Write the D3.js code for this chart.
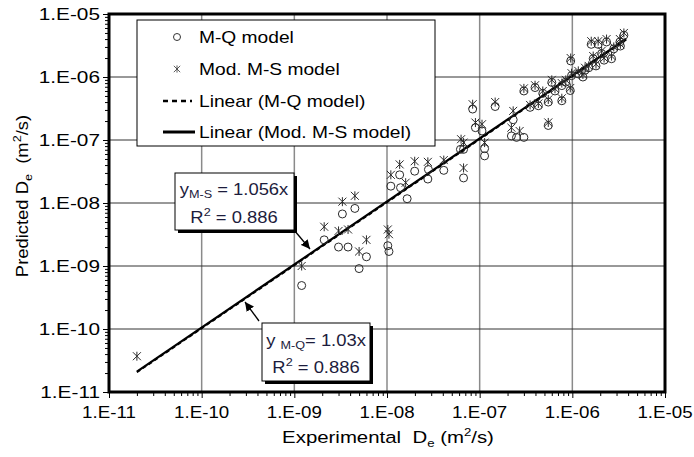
<!DOCTYPE html>
<html><head><meta charset="utf-8">
<script src="https://cdn.jsdelivr.net/npm/d3@7"></script>
<style>body{margin:0;background:#fff}svg{display:block}</style>
</head><body><svg id="c" width="694" height="457"></svg>
<script>
const tickValues = [1e-11,1e-10,1e-9,1e-8,1e-7,1e-6,1e-5];
const tickLabels = ["1.E-11","1.E-10","1.E-09","1.E-08","1.E-07","1.E-06","1.E-05"];
const legendLabels = ["M-Q model","Mod. M-S model","Linear (M-Q model)","Linear (Mod. M-S model)"];
const slopeMQ = 1.03, slopeMS = 1.056;
const fitRange = [2e-11, 3.8e-6];

// M-Q model (circles)
const mqExp = [1.2e-9,2.1e-9,3.3e-9,4.5e-9,3.0e-9,3.8e-9,6.0e-9,5.0e-9,1.02e-8,1.05e-8,
  1.1e-8,1.37e-8,1.4e-8,1.65e-8,1.99e-8,2.76e-8,2.8e-8,4.1e-8,6.7e-8,6.2e-8,6.7e-8,8.4e-8,
  1.47e-7,9.0e-8,1.06e-7,1.13e-7,1.13e-7,2.3e-7,2.2e-7,2.5e-7,3.0e-7,
  3.0e-7,3.5e-7,3.96e-7,4.3e-7,5.5e-7,6.0e-7,7.7e-7,7.7e-7,9.6e-7,9.5e-7,9.8e-7,1.16e-6,
  1.37e-6,1.68e-6,2.07e-6,2.65e-6,1.6e-6,1.9e-6,2.34e-6,3.26e-6,3.6e-6,5.5e-7,
  4.8e-7,6.5e-7,8.5e-7,1.3e-6,1.8e-6,2.2e-6,2.8e-6,3.3e-6,1.5e-6];
const mqPred = [4.9e-10,2.6e-9,6.7e-9,8.2e-9,2.0e-9,2.0e-9,1.4e-9,9.1e-10,2.1e-9,1.7e-9,
  1.85e-8,2.8e-8,1.75e-8,1.17e-8,3.2e-8,2.4e-8,3.4e-8,3.3e-8,2.5e-8,7.1e-8,7.1e-8,3.1e-7,
  3.4e-7,1.57e-7,1.39e-7,7.3e-8,5.6e-8,2.1e-7,1.16e-7,1.1e-7,1.1e-7,
  6.0e-7,3.3e-7,6.8e-7,3.5e-7,4.0e-7,8.2e-7,7.3e-7,4.2e-7,1.8e-6,6.1e-7,1.05e-6,1.12e-6,
  1.28e-6,1.95e-6,2.35e-6,1.95e-6,3.3e-6,3.3e-6,3.6e-6,3.6e-6,4.6e-6,1.7e-7,
  5.5e-7,6.0e-7,8.3e-7,1.0e-6,1.5e-6,1.85e-6,2.8e-6,3.1e-6,1.4e-6];

// Mod. M-S model (stars)
const msExp = [2.0e-11,1.2e-9,2.1e-9,3.3e-9,4.5e-9,3.0e-9,3.8e-9,6.0e-9,5.0e-9,1.02e-8,1.05e-8,
  1.1e-8,1.37e-8,1.59e-8,1.99e-8,2.76e-8,4.1e-8,6.7e-8,6.3e-8,6.7e-8,8.4e-8,1.47e-7,9.0e-8,
  1.06e-7,1.13e-7,2.3e-7,2.2e-7,2.7e-7,
  3.0e-7,3.5e-7,3.96e-7,4.3e-7,5.5e-7,6.0e-7,7.7e-7,7.7e-7,9.6e-7,9.5e-7,9.8e-7,1.16e-6,
  1.37e-6,1.68e-6,2.07e-6,2.65e-6,1.6e-6,1.9e-6,2.34e-6,3.26e-6,3.6e-6,5.5e-7,
  4.8e-7,6.5e-7,8.5e-7,1.3e-6,1.8e-6,2.2e-6,2.8e-6,3.3e-6,1.5e-6];
const msPred = [3.7e-11,1.0e-9,4.2e-9,1.05e-8,1.3e-8,3.6e-9,3.8e-9,2.6e-9,1.7e-9,3.8e-9,3.2e-9,
  2.8e-8,4.1e-8,2.1e-8,4.6e-8,4.5e-8,4.8e-8,3.6e-8,1.03e-7,9.1e-8,3.7e-7,4.0e-7,1.89e-7,
  1.78e-7,9.1e-8,2.9e-7,1.57e-7,1.39e-7,
  6.6e-7,3.6e-7,7.4e-7,3.8e-7,4.4e-7,9.0e-7,8.0e-7,4.6e-7,2.0e-6,6.7e-7,1.15e-6,1.25e-6,
  1.4e-6,2.15e-6,2.6e-6,2.15e-6,3.7e-6,3.7e-6,4.0e-6,4.0e-6,5.0e-6,1.9e-7,
  6.0e-7,6.5e-7,9.0e-7,1.1e-6,1.6e-6,2.0e-6,3.0e-6,3.3e-6,1.5e-6];

const svg = d3.select("#c");
const L = 109, R = 665, T = 14, B = 392;
const x = d3.scaleLog().domain([1e-11,1e-5]).range([L,R]);
const y = d3.scaleLog().domain([1e-11,1e-5]).range([B,T]);
const FONT = "'Liberation Sans', Arial, sans-serif";

function txt(g, px, py, anchor, size, sx, fill) {
  return g.append("text").attr("transform", `translate(${px},${py}) scale(${sx},1)`)
    .attr("text-anchor", anchor).attr("font-family", FONT).attr("font-size", size)
    .attr("fill", fill || "#000");
}

// grid
const inner = tickValues.slice(1,-1);
svg.append("g").selectAll("line").data(inner).join("line")
  .attr("x1", d=>x(d)).attr("x2", d=>x(d)).attr("y1", T).attr("y2", B)
  .attr("stroke", "#8a8a8a").attr("stroke-width", 1.5);
svg.append("g").selectAll("line").data(inner).join("line")
  .attr("y1", d=>y(d)).attr("y2", d=>y(d)).attr("x1", L).attr("x2", R)
  .attr("stroke", "#333").attr("stroke-width", 1);

// axes
const xAxis = d3.axisBottom(x).tickValues(tickValues).tickFormat("").tickSize(6).tickSizeOuter(0);
const yAxis = d3.axisLeft(y).tickValues(tickValues).tickFormat("").tickSize(6).tickSizeOuter(0);
const minor = [];
for (let e=-11; e<-5; e++) for (let k=2;k<10;k++) minor.push(k*Math.pow(10,e));
svg.append("g").attr("transform", `translate(0,${B})`).call(xAxis);
svg.append("g").attr("transform", `translate(${L},0)`).call(yAxis);
svg.append("g").attr("transform", `translate(0,${B})`)
  .call(d3.axisBottom(x).tickValues(minor).tickFormat("").tickSize(4).tickSizeOuter(0));
svg.append("g").attr("transform", `translate(${L},0)`)
  .call(d3.axisLeft(y).tickValues(minor).tickFormat("").tickSize(4).tickSizeOuter(0));
svg.selectAll(".domain").attr("stroke", "none");
svg.selectAll(".tick line").attr("stroke", "#000").attr("stroke-width", 1);

// tick labels
const tl = svg.append("g");
tickValues.forEach((v,i)=>{
  txt(tl, x(v), 418, "middle", 16, 1.17).text(tickLabels[i]);
  txt(tl, 100, y(v)+6, "end", 16, 1.3).text(tickLabels[i]);
});

// axis titles
const NB = "\u00a0";
const xt = txt(svg, 388, 443, "middle", 17, 1.2);
xt.append("tspan").text("Experimental" + NB + " D");
xt.append("tspan").attr("font-size", 11).attr("dy", 4).text("e");
xt.append("tspan").attr("dy", -4).text(NB + "(m");
xt.append("tspan").attr("font-size", 11).attr("dy", -7).text("2");
xt.append("tspan").attr("dy", 7).text("/s)");

const yt = svg.append("text").attr("transform", `translate(28,196) rotate(-90) scale(1.15,1)`)
  .attr("text-anchor","middle").attr("font-family", FONT).attr("font-size",16);
yt.append("tspan").text("Predicted D");
yt.append("tspan").attr("font-size", 11).attr("dy", 4).text("e");
yt.append("tspan").attr("dy", -4).text(NB + NB + "(m");
yt.append("tspan").attr("font-size", 11).attr("dy", -7).text("2");
yt.append("tspan").attr("dy", 7).text("/s)");

// fitted lines
svg.append("line").attr("x1", x(fitRange[0])).attr("y1", y(fitRange[0]*slopeMS))
  .attr("x2", x(fitRange[1])).attr("y2", y(fitRange[1]*slopeMS))
  .attr("stroke","#000").attr("stroke-width",2.2);
svg.append("line").attr("x1", x(fitRange[0])).attr("y1", y(fitRange[0]*slopeMQ))
  .attr("x2", x(fitRange[1])).attr("y2", y(fitRange[1]*slopeMQ))
  .attr("stroke","#000").attr("stroke-width",2).attr("stroke-dasharray","4,3");

// markers
const mq = mqExp.map((v,i)=>[v, mqPred[i]]);
const ms = msExp.map((v,i)=>[v, msPred[i]]);
svg.append("g").selectAll("circle").data(mq).join("circle")
  .attr("cx", d=>x(d[0])).attr("cy", d=>y(d[1])).attr("r", 4)
  .attr("fill","none").attr("stroke","#2a2a2a").attr("stroke-width",1);
const starPath = "M-4,-4L4,4M-4,4L4,-4M0,-4.5L0,4.5";
svg.append("g").selectAll("path").data(ms).join("path")
  .attr("transform", d=>`translate(${x(d[0])},${y(d[1])})`).attr("d", starPath)
  .attr("stroke","#2a2a2a").attr("stroke-width",1).attr("fill","none");

// legend
const lg = svg.append("g");
lg.append("rect").attr("x",137).attr("y",20).attr("width",298).attr("height",126)
  .attr("fill","#fff").attr("stroke","#000").attr("stroke-width",1);
const ly = [37, 69, 101, 132];
lg.append("circle").attr("cx",177).attr("cy",ly[0]).attr("r",3.5).attr("fill","none").attr("stroke","#333");
lg.append("path").attr("transform",`translate(177,${ly[1]}) scale(0.8)`).attr("d",starPath).attr("stroke","#333").attr("fill","none");
lg.append("line").attr("x1",163).attr("x2",192).attr("y1",ly[2]).attr("y2",ly[2]).attr("stroke","#000").attr("stroke-width",2.5).attr("stroke-dasharray","5,4");
lg.append("line").attr("x1",163).attr("x2",195).attr("y1",ly[3]).attr("y2",ly[3]).attr("stroke","#000").attr("stroke-width",3);
legendLabels.forEach((s,i)=>txt(lg, 199, ly[i]+6, "start", 16, 1.2).text(s));

// annotations
const TC = "#1c1c3c";
function box(bx, by, w, h) {
  svg.append("rect").attr("x",bx+3).attr("y",by+3).attr("width",w).attr("height",h).attr("fill","#000");
  svg.append("rect").attr("x",bx).attr("y",by).attr("width",w).attr("height",h).attr("fill","#fff").attr("stroke","#000").attr("stroke-width",1);
}
svg.append("defs").append("marker").attr("id","ah").attr("viewBox","0 0 10 10").attr("refX",10).attr("refY",5)
  .attr("markerWidth",9).attr("markerHeight",9).attr("markerUnits","userSpaceOnUse").attr("orient","auto")
  .append("path").attr("d","M0,0L10,5L0,10Z").attr("fill","#000");
svg.append("line").attr("x1",294).attr("y1",230).attr("x2",310).attr("y2",249)
  .attr("stroke","#000").attr("stroke-width",1.3).attr("marker-end","url(#ah)");
svg.append("line").attr("x1",259).attr("y1",321).attr("x2",245).attr("y2",302)
  .attr("stroke","#000").attr("stroke-width",1.3).attr("marker-end","url(#ah)");

box(175, 173, 119, 57);
const a1 = txt(svg, 234, 195, "middle", 16, 1.15, TC);
a1.append("tspan").text("y");
a1.append("tspan").attr("font-size", 11).attr("dy", 3).text("M-S");
a1.append("tspan").attr("dy", -3).text(" = 1.056x");
const a2 = txt(svg, 234, 223, "middle", 16, 1.15, TC);
a2.append("tspan").text("R");
a2.append("tspan").attr("font-size", 11).attr("dy", -7).text("2");
a2.append("tspan").attr("dy", 7).text(" = 0.886");

box(262, 323, 108, 58);
const b1 = txt(svg, 316, 346, "middle", 16, 1.15, TC);
b1.append("tspan").text("y ");
b1.append("tspan").attr("font-size", 11).attr("dy", 3).text("M-Q");
b1.append("tspan").attr("dy", -3).text("= 1.03x");
const b2 = txt(svg, 316, 373, "middle", 16, 1.15, TC);
b2.append("tspan").text("R");
b2.append("tspan").attr("font-size", 11).attr("dy", -7).text("2");
b2.append("tspan").attr("dy", 7).text(" = 0.886");

// frame
svg.append("rect").attr("x",L).attr("y",T).attr("width",R-L).attr("height",B-T)
  .attr("fill","none").attr("stroke","#000").attr("stroke-width",3);
</script></body></html>
